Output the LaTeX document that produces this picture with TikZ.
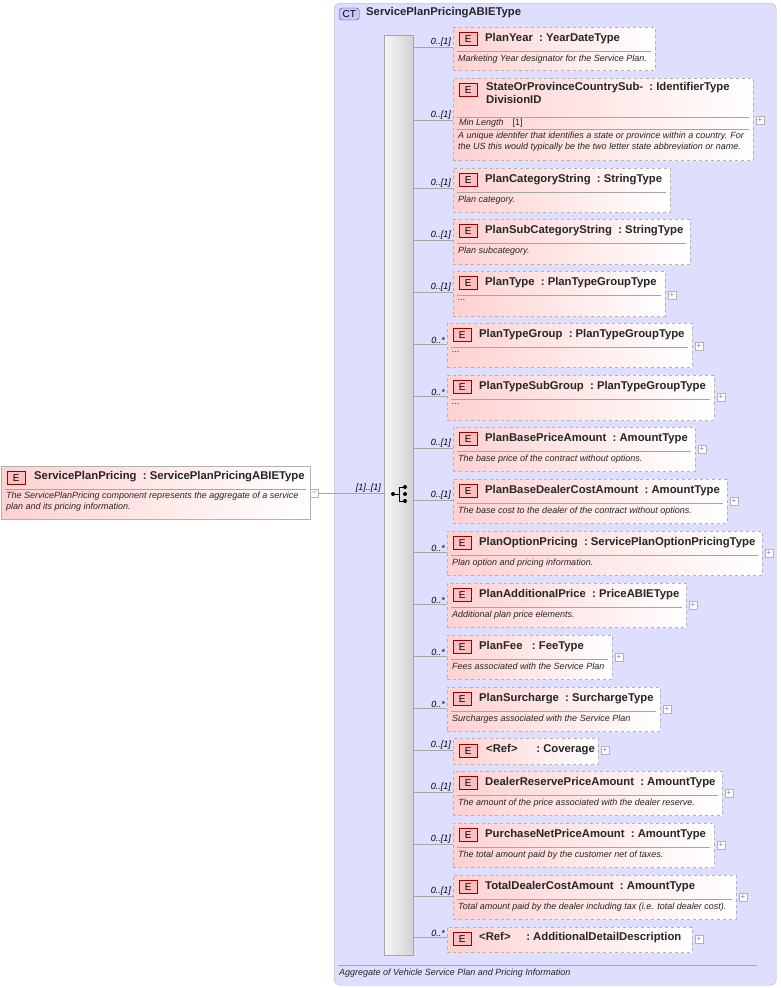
\documentclass[tikz,border=0pt]{standalone}
\usepackage{fontspec}
\setmainfont{Liberation Sans}
\begin{document}
\begin{tikzpicture}[x=1pt,y=-1pt,
 ebox/.style={draw=gray!60,dashed,left color=red!18,right color=white,inner sep=0},
 badge/.style={draw=red!60!black,fill=red!25,minimum width=18pt,minimum height=13pt,inner sep=0,font=\fontsize{10}{10}\selectfont},
 ttl/.style={inner sep=0,font=\fontsize{11.3}{13}\selectfont\bfseries,align=left,text=black!85},
 desc/.style={inner sep=0,font=\fontsize{9}{11}\selectfont\itshape,align=left,text=black!85},
 mult/.style={inner sep=1pt,font=\fontsize{9}{9}\selectfont\itshape},
 sep/.style={draw=gray!70},
 conn/.style={draw=gray!70},
 plusb/.style={draw=gray!60,fill=white,minimum size=8pt,inner sep=0,font=\fontsize{8}{8}\selectfont,text=gray}]
\useasboundingbox (0,0) rectangle (780,988);
\newcommand\elm[9]{%
 \node[ebox,minimum width={(#4-#2)*1pt},minimum height={(#5-#3)*1pt},anchor=north west] (#1) at (#2,#3) {};
 \node[badge,anchor=north west] (#1b) at (#2+6,#3+5) {E};
 \node[ttl,anchor=west] (#1t) at (#2+32,#3+12) {#6};
 \draw[sep] (#2+4,#3+24) -- (#4-4,#3+24);
 \node[desc,anchor=north west] (#1d) at (#2+5,#3+28) {#7};
 \node[mult,anchor=south east] (#1m) at (#2-1,#8+1) {#9};
 \draw[conn] (bar.east |- 0,#8) -- (#1.west |- 0,#8);
}
\newcommand\plb[3]{\node[plusb] (#1p) at (#2+7,#3) {+};}
% container
\node[draw=gray!60,fill=blue!13,rounded corners=6pt,minimum width=442pt,minimum height=982pt,anchor=north west] (ct) at (334,3) {};
\node[draw=black!70,fill=blue!22,rounded corners=3pt,inner sep=1pt,minimum width=20pt,minimum height=12pt,font=\fontsize{10}{10}\selectfont,anchor=west] (ctb) at (339,14) {CT};
\node[ttl,anchor=west] (ctt) at (366,13) {ServicePlanPricingABIEType};
\draw[sep] (338,965) -- (757,965);
\node[desc,anchor=west] (ctd) at (339,973) {Aggregate of Vehicle Service Plan and Pricing Information};
% sequence bar
\node[draw=gray!70,left color=gray!8,right color=gray!35,minimum width=29pt,minimum height=920pt,anchor=north west,inner sep=0] (bar) at (384,35) {};
\draw[line width=0.8pt] (393,494) -- (399,494) (399,487) -- (399,501) (399,487) -- (405,487) (399,501) -- (405,501);
\fill (393,494) circle (2) (405,487) circle (2) (405,494) circle (2) (405,501) circle (2);
% root element
\node[draw=gray!60,left color=red!18,right color=white,minimum width=309pt,minimum height=53pt,anchor=north west,inner sep=0] (root) at (1,466) {};
\node[badge,anchor=north west] (rootb) at (7,471) {E};
\node[ttl,anchor=west] (roott) at (34,477) {ServicePlanPricing\ \ :\ ServicePlanPricingABIEType};
\draw[sep] (5,489) -- (306,489);
\node[desc,anchor=north west] (rootd) at (6,492) {The ServicePlanPricing component represents the aggregate of a service\\plan and its pricing information.};
\node[plusb] (rootp) at (314,493) {--};
\draw[conn] (rootp.east) -- (bar.west |- rootp.east);
\node[mult,anchor=south east] (rootm) at (382,494) {[1]..[1]};
% children
\elm{e1}{453}{27}{655}{70}{PlanYear\ \ :\ YearDateType}{Marketing Year designator for the Service Plan.}{47}{0..[1]}
% state
\node[ebox,minimum width=300pt,minimum height=82pt,anchor=north west] (e2) at (453,78) {};
\node[badge,anchor=north west] (e2b) at (459,83) {E};
\node[ttl,anchor=north west] (e2t) at (486,82) {StateOrProvinceCountrySub-\ \ :\ IdentifierType\\DivisionID};
\draw[sep] (457,117) -- (749,117);
\node[desc,anchor=west] (e2l) at (459,123) {Min Length\quad\upshape[1]};
\draw[sep] (457,129) -- (749,129);
\node[desc,anchor=north west] (e2d) at (458,132) {A unique identifer that identifies a state or province within a country. For\\the US this would typically be the two letter state abbreviation or name.};
\node[mult,anchor=south east] (e2m) at (452,121) {0..[1]};
\draw[conn] (bar.east |- 0,120) -- (e2.west |- 0,120);
\plb{e2}{753}{120}
\elm{e3}{453}{168}{670}{212}{PlanCategoryString\ \ :\ StringType}{Plan category.}{188}{0..[1]}
\elm{e4}{453}{219}{690}{264}{PlanSubCategoryString\ \ :\ StringType}{Plan subcategory.}{240}{0..[1]}
\elm{e5}{453}{271}{665}{316}{PlanType\ \ :\ PlanTypeGroupType}{...}{292}{0..[1]}\plb{e5}{665}{295}
\elm{e6}{447}{323}{692}{367}{PlanTypeGroup\ \ :\ PlanTypeGroupType}{...}{344}{0..*}\plb{e6}{692}{346}
\elm{e7}{447}{375}{714}{420}{PlanTypeSubGroup\ \ :\ PlanTypeGroupType}{...}{396}{0..*}\plb{e7}{714}{397}
\elm{e8}{453}{427}{695}{471}{PlanBasePriceAmount\ \ :\ AmountType}{The base price of the contract without options.}{448}{0..[1]}\plb{e8}{695}{449}
\elm{e9}{453}{479}{727}{523}{PlanBaseDealerCostAmount\ \ :\ AmountType}{The base cost to the dealer of the contract without options.}{500}{0..[1]}\plb{e9}{727}{501}
\elm{e10}{447}{531}{762}{575}{PlanOptionPricing\ \ :\ ServicePlanOptionPricingType}{Plan option and pricing information.}{552}{0..*}\plb{e10}{762}{553}
\elm{e11}{447}{583}{686}{627}{PlanAdditionalPrice\ \ :\ PriceABIEType}{Additional plan price elements.}{604}{0..*}\plb{e11}{686}{605}
\elm{e12}{447}{635}{612}{679}{PlanFee\ \ \ :\ FeeType}{Fees associated with the Service Plan}{656}{0..*}\plb{e12}{612}{657}
\elm{e13}{447}{687}{660}{731}{PlanSurcharge\ \ :\ SurchargeType}{Surcharges associated with the Service Plan}{708}{0..*}\plb{e13}{660}{709}
% ref coverage
\node[ebox,minimum width=145pt,minimum height=26pt,anchor=north west] (e14) at (453,738) {};
\node[badge,anchor=north west] (e14b) at (459,744) {E};
\node[ttl,anchor=west] (e14t) at (486,750) {<Ref>\ \ \ \ \ \ :\ Coverage};
\node[mult,anchor=south east] (e14m) at (452,751) {0..[1]};
\draw[conn] (bar.east |- 0,750) -- (e14.west |- 0,750);
\plb{e14}{598}{750}
\elm{e15}{453}{771}{722}{815}{DealerReservePriceAmount\ \ :\ AmountType}{The amount of the price associated with the dealer reserve.}{792}{0..[1]}\plb{e15}{722}{793}
\elm{e16}{453}{823}{714}{867}{PurchaseNetPriceAmount\ \ :\ AmountType}{The total amount paid by the customer net of taxes.}{844}{0..[1]}\plb{e16}{714}{845}
\elm{e17}{453}{875}{736}{919}{TotalDealerCostAmount\ \ :\ AmountType}{Total amount paid by the dealer including tax (i.e. total dealer cost).}{896}{0..[1]}\plb{e17}{736}{897}
\node[ebox,minimum width=245pt,minimum height=25pt,anchor=north west] (e18) at (447,927) {};
\node[badge,anchor=north west] (e18b) at (453,932) {E};
\node[ttl,anchor=west] (e18t) at (479,938) {<Ref>\ \ \ \ \ :\ AdditionalDetailDescription};
\node[mult,anchor=south east] (e18m) at (446,938) {0..*};
\draw[conn] (bar.east |- 0,937) -- (e18.west |- 0,937);
\plb{e18}{692}{939}
\end{tikzpicture}
\end{document}
